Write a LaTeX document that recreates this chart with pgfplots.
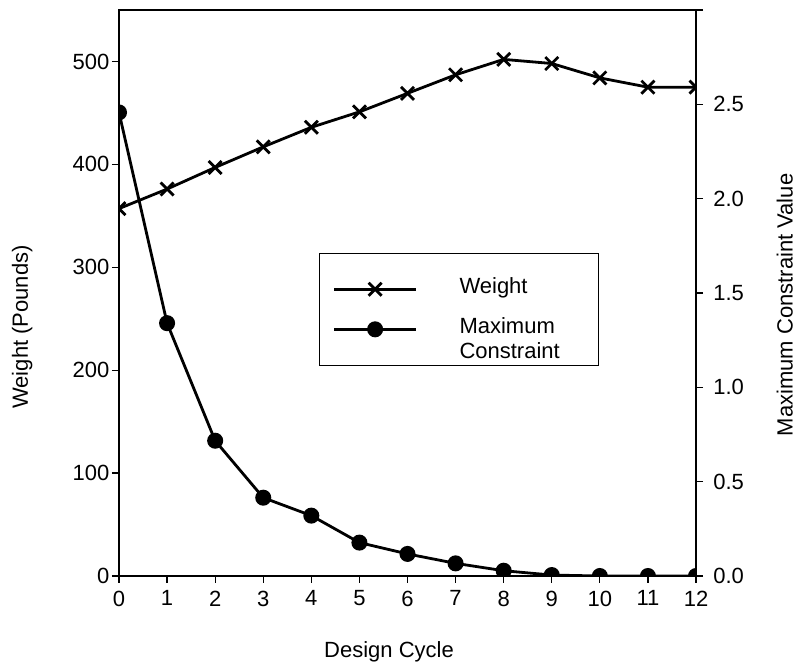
\documentclass[border=0pt]{standalone}
\usepackage{fontspec}
\setmainfont{Liberation Sans}
\usepackage{pgfplots}
\pgfplotsset{compat=1.18}

\pgfplotsset{
  common/.style={
    scale only axis, width=288.5pt, height=283pt,
    xmin=0, xmax=12,
    tick align=outside, major tick length=3.5pt,
    axis line style={line width=0.6pt},
    every tick/.style={black, line width=0.6pt},
    /pgf/number format/assume math mode=true,
    clip=true, clip marker paths=true,
  },
  wline/.style={black, line width=1.4pt, mark=x, mark size=4.6pt, mark options={line width=1.4pt}},
  cline/.style={black, line width=1.4pt, mark=*, mark size=3.3pt},
  climg/.style={legend image code/.code={
    \draw[##1, mark repeat=2, mark phase=2] plot coordinates {(0pt,5pt) (20.5pt,5pt) (41pt,5pt)};
  }},
}

\begin{document}
\fontsize{11}{12.5}\selectfont
\begin{tikzpicture}
\useasboundingbox (-59.5pt,-45.5pt) rectangle (338pt,288pt);

\begin{axis}[common,
  ymin=0, ymax=550, ytick={0,100,...,500},
  xtick={0,...,12}, xtick pos=bottom, ytick pos=left,
  yticklabel style={xshift=2.5pt},
  xlabel={Design Cycle}, ylabel={Weight (Pounds)},
  xlabel style={at={(axis description cs:0.468,-0.134)}, anchor=center},
  ylabel style={at={(axis description cs:-0.168,0.44)}, anchor=center},
  legend cell align=left,
  legend image code/.code={
    \draw[#1, mark repeat=2, mark phase=2] plot coordinates {(0pt,-6pt) (20.5pt,-6pt) (41pt,-6pt)};
  },
  legend style={at={(axis description cs:0.347,0.571)}, anchor=north west,
    draw=black, line width=0.5pt, inner xsep=6.5pt, inner ysep=0pt,
    row sep=6pt, column sep=19pt},
]
\addplot[wline] coordinates {
  (0,357) (1,376) (2,397) (3,417) (4,436) (5,451) (6,469)
  (7,487) (8,502) (9,498) (10,484) (11,475) (12,475)
};
\addlegendentry{\parbox[t]{61pt}{\rule{0pt}{18.3pt}Weight}}
\addlegendimage{cline, climg}
\addlegendentry{\parbox[b]{61pt}{Maximum\\Constraint}}
\end{axis}

\begin{axis}[common,
  ymin=0, ymax=3, xtick=\empty, ytick pos=right, yticklabel pos=right,
  ytick={0,0.5,...,3}, yticklabels={0.0,0.5,1.0,1.5,2.0,2.5,{}},
  yticklabel style={xshift=1.3pt},
  ylabel={Maximum Constraint Value},
  ylabel style={at={(axis description cs:1.154,0.479)}, anchor=center, rotate=0},
]
\addplot[cline] coordinates {
  (0,2.457) (1,1.340) (2,0.717) (3,0.415) (4,0.320) (5,0.177) (6,0.117)
  (7,0.067) (8,0.028) (9,0.005) (10,0.0) (11,0.0) (12,0.0)
};
\end{axis}
\end{tikzpicture}
\end{document}
